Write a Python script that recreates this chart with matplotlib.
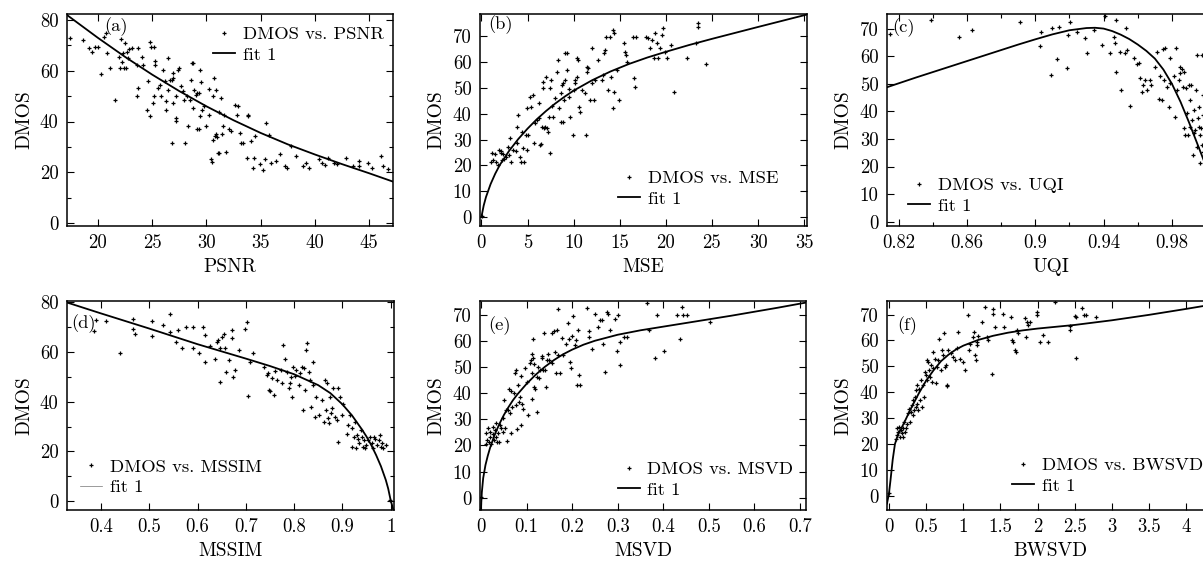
import matplotlib
matplotlib.use('Agg')
import matplotlib.pyplot as plt
from matplotlib.lines import Line2D

plt.rcParams['font.family'] = ['cmr10', 'DejaVu Serif']
plt.rcParams['mathtext.fontset'] = 'cm'
plt.rcParams['axes.formatter.use_mathtext'] = True

# ---------------- data ----------------
psnr_x = [17.4, 18.6, 19.2, 19.5, 19.7, 20.0, 20.3, 20.6, 20.7, 20.8, 21.1, 21.6, 21.9, 22.0, 22.1, 22.2, 22.3, 22.4,
          22.5, 22.6, 22.7, 22.8, 22.9, 23.1, 23.6, 23.6, 23.7, 23.7, 24.1, 24.2, 24.5, 24.6, 24.8, 24.8, 24.9, 25.1,
          25.2, 25.2, 25.3, 25.3, 25.5, 25.7, 25.8, 26.0, 26.2, 26.3, 26.3, 26.5, 26.5, 26.6, 26.8, 26.8, 26.9, 26.9,
          26.9, 27.2, 27.2, 27.2, 27.4, 27.5, 27.7, 27.8, 27.9, 28.0, 28.2, 28.3, 28.5, 28.6, 28.7, 28.8, 28.8, 28.9,
          29.0, 29.1, 29.1, 29.3, 29.3, 29.4, 29.4, 29.5, 29.6, 29.8, 30.0, 30.2, 30.2, 30.4, 30.5, 30.6, 30.6, 30.7,
          30.8, 30.9, 30.9, 31.0, 31.1, 31.2, 31.2, 31.3, 31.4, 31.5, 31.6, 31.8, 32.1, 32.3, 32.6, 32.8, 32.9, 33.1,
          33.2, 33.4, 33.7, 33.8, 33.8, 34.1, 34.3, 34.4, 34.5, 34.9, 35.2, 35.4, 35.5, 35.8, 36.0, 36.4, 36.8, 37.2,
          37.4, 37.8, 38.3, 38.9, 39.2, 39.5, 40.4, 40.7, 40.9, 41.2, 41.8, 42.0, 42.9, 43.5, 44.1, 44.1, 44.9, 45.3,
          46.1, 46.3, 46.7]
psnr_dmos = [72.8, 72.2, 68.9, 67.6, 69.5, 69.5, 58.8, 73.2, 74.8, 66.9, 61.0, 48.6, 65.6, 61.0, 72.4, 63.4, 66.9, 61.0,
             70.8, 61.0, 67.6, 65.0, 68.5, 68.9, 50.2, 62.4, 68.9, 53.2, 65.6, 62.4, 44.7, 55.8, 71.5, 42.1, 69.5, 47.3,
             69.5, 49.9, 63.7, 62.4, 53.2, 54.5, 49.9, 60.4, 55.8, 48.0, 44.4, 65.0, 52.5, 56.2, 56.2, 31.6, 57.1, 59.1,
             47.3, 41.4, 40.1, 49.9, 60.4, 61.0, 53.9, 51.9, 48.6, 31.6, 49.9, 38.2, 48.6, 56.5, 63.0, 63.0, 45.4, 52.5,
             50.6, 36.9, 51.2, 51.2, 36.9, 60.4, 42.1, 55.4, 44.7, 46.0, 38.2, 52.8, 42.7, 25.4, 24.1, 32.9, 49.9, 57.1,
             34.2, 52.5, 34.9, 34.0, 27.7, 27.4, 43.7, 49.3, 34.9, 38.2, 42.7, 28.1, 36.9, 36.2, 46.7, 42.7, 46.0, 35.5,
             31.4, 31.4, 25.5, 42.7, 42.1, 32.3, 21.8, 25.8, 34.2, 23.1, 20.9, 25.1, 39.5, 34.5, 23.8, 24.4, 27.1, 22.5,
             21.6, 30.3, 26.4, 22.5, 23.8, 21.8, 25.1, 23.8, 22.9, 25.8, 23.8, 23.1, 25.8, 22.5, 24.4, 22.5, 23.8, 21.8,
             26.4, 22.5, 21.4]
psnr_fit_x = [17.15, 20.0, 22.5, 25.0, 27.5, 30.0, 32.5, 35.0, 37.5, 40.0, 42.5, 45.0, 47.2]
psnr_fit_y = [82.0, 73.0, 65.5, 58.5, 52.0, 46.0, 40.5, 35.5, 31.0, 27.0, 23.2, 19.6, 16.3]

mse_x = [1.05, 1.15, 1.3, 1.5, 1.6, 1.8, 1.9, 2.1, 2.1, 2.2, 2.3, 2.5, 2.7, 2.9, 3.0, 3.1, 3.2, 3.4, 3.7, 3.9, 3.9, 4.0,
         4.2, 4.3, 4.4, 4.5, 4.6, 4.8, 4.9, 4.9, 5.1, 5.3, 5.4, 5.6, 5.7, 5.8, 6.0, 6.2, 6.3, 6.4, 6.5, 6.6, 6.7, 6.7,
         6.8, 6.9, 7.0, 7.1, 7.2, 7.3, 7.4, 7.4, 7.5, 7.7, 7.8, 8.0, 8.2, 8.3, 8.4, 8.6, 8.6, 8.7, 8.8, 8.9, 9.0, 9.1,
         9.1, 9.3, 9.3, 9.5, 9.5, 9.6, 9.9, 10.0, 10.1, 10.2, 10.4, 10.4, 10.5, 10.6, 10.7, 10.9, 11.2, 11.3, 11.4,
         11.4, 11.6, 11.8, 12.0, 12.0, 12.2, 12.3, 12.6, 13.1, 13.2, 13.3, 13.4, 13.5, 13.7, 13.9, 14.1, 14.3, 14.3,
         14.4, 14.4, 14.7, 14.9, 15.5, 15.6, 15.7, 15.8, 16.4, 16.5, 16.7, 16.8, 17.8, 18.1, 18.3, 18.5, 18.7, 18.8,
         19.0, 19.2, 19.4, 19.6, 19.7, 19.9, 20.1, 20.6, 20.9, 22.3, 23.3, 23.5, 23.5, 24.4, 0.05]
mse_dmos = [21.5, 24.7, 22.1, 24.5, 21.5, 20.2, 26.0, 25.4, 24.7, 22.1, 24.5, 22.4, 23.4, 27.3, 24.1, 30.5, 21.5, 26.0,
            25.4, 28.6, 35.0, 39.5, 23.4, 21.5, 33.1, 26.6, 21.2, 31.8, 42.1, 26.0, 31.8, 46.6, 42.7, 47.2, 28.6, 36.3,
            37.6, 38.2, 44.0, 27.7, 28.3, 35.0, 49.8, 52.4, 34.4, 35.0, 54.3, 34.4, 33.1, 38.9, 24.7, 49.8, 53.0, 43.0,
            38.9, 45.9, 56.2, 60.7, 42.1, 47.9, 36.9, 51.1, 51.7, 36.9, 45.3, 53.0, 63.3, 63.3, 56.9, 49.4, 46.6, 38.9,
            31.8, 49.2, 51.7, 53.0, 54.3, 61.4, 60.7, 42.7, 40.8, 49.2, 47.9, 31.8, 58.2, 56.2, 57.5, 45.3, 51.7, 65.5,
            45.3, 53.0, 60.7, 53.0, 55.0, 63.3, 64.6, 69.8, 49.2, 69.8, 54.3, 42.1, 72.3, 71.0, 48.5, 56.9, 45.3, 67.2,
            64.0, 62.7, 60.1, 69.5, 53.7, 50.4, 69.5, 69.5, 69.1, 65.3, 68.5, 61.4, 71.3, 67.2, 61.4, 65.3, 70.4, 73.0,
            64.0, 61.4, 66.5, 48.5, 61.4, 67.2, 75.2, 73.4, 59.2, 0.3]
mse_fit_x = [0.0, 0.25, 0.5, 1.0, 1.5, 2.0, 3.0, 4.0, 5.0, 6.0, 7.0, 8.0, 9.0, 10.0, 12.0, 14.0, 16.0, 18.0, 20.0,
             22.5, 25.0, 30.0, 35.3]
mse_fit_y = [0.0, 4.5, 7.8, 12.8, 16.8, 20.2, 25.6, 30.2, 34.2, 37.8, 41.0, 43.9, 46.5, 48.9, 52.9, 56.3, 59.2, 61.7,
             63.9, 66.5, 68.9, 73.5, 78.3]

uqi_x = [0.8147, 0.8391, 0.8551, 0.8629, 0.8912, 0.9029, 0.9033, 0.9092, 0.9098, 0.9127, 0.9137, 0.9185, 0.9191,
         0.9205, 0.9244, 0.9293, 0.9302, 0.9341, 0.9390, 0.9410, 0.9439, 0.9459, 0.9468, 0.9474, 0.9474, 0.9494,
         0.9501, 0.9527, 0.9533, 0.9536, 0.9556, 0.9576, 0.9595, 0.9605, 0.9615, 0.9624, 0.9630, 0.9644, 0.9654,
         0.9673, 0.9677, 0.9702, 0.9712, 0.9722, 0.9732, 0.9741, 0.9747, 0.9755, 0.9761, 0.9771, 0.9780, 0.9786,
         0.9790, 0.9810, 0.9820, 0.9825, 0.9829, 0.9839, 0.9845, 0.9849, 0.9859, 0.9864, 0.9868, 0.9872, 0.9878,
         0.9884, 0.9888, 0.9892, 0.9898, 0.9903, 0.9907, 0.9911, 0.9917, 0.9923, 0.9927, 0.9931, 0.9937, 0.9942,
         0.9946, 0.9946, 0.9950, 0.9956, 0.9956, 0.9962, 0.9966, 0.9970, 0.9976, 0.9976, 0.9980, 0.9980, 0.9984]
uqi_dmos = [68.2, 73.2, 67.2, 69.6, 72.6, 63.8, 69.0, 53.3, 70.2, 59.0, 70.8, 55.7, 67.8, 72.6, 69.0, 66.6, 61.1, 69.6,
            64.2, 74.7, 61.1, 67.2, 64.8, 54.5, 73.2, 61.7, 47.8, 61.1, 70.2, 62.3, 42.0, 59.3, 57.1, 57.5, 52.1, 47.2,
            49.6, 51.5, 47.8, 51.5, 49.6, 56.3, 61.7, 44.4, 52.9, 44.2, 62.6, 51.5, 63.0, 49.0, 41.8, 50.2, 59.3, 52.7,
            38.1, 63.0, 47.8, 51.5, 56.3, 53.9, 55.3, 49.0, 33.9, 54.5, 31.5, 48.4, 39.3, 31.5, 49.6, 34.5, 44.2, 49.6,
            36.9, 24.2, 40.6, 32.1, 33.3, 47.8, 60.5, 27.2, 37.5, 34.5, 41.8, 31.5, 21.2, 33.9, 60.5, 27.8, 38.7, 25.4,
            46.0]
uqi_fit_x = [0.8132, 0.83, 0.85, 0.87, 0.89, 0.90, 0.91, 0.92, 0.93, 0.935, 0.94, 0.945, 0.95, 0.955, 0.96, 0.965,
             0.97, 0.975, 0.98, 0.985, 0.99, 0.995, 1.0, 1.0046]
uqi_fit_y = [48.8, 52.3, 56.3, 60.3, 64.3, 66.2, 68.0, 69.5, 70.3, 70.4, 70.1, 69.2, 67.9, 66.3, 64.3, 62.0, 59.2,
             55.2, 50.0, 43.5, 36.0, 28.0, 20.0, 12.5]

mssim_x = [0.385, 0.39, 0.410, 0.439, 0.466, 0.467, 0.470, 0.505, 0.506, 0.528, 0.544, 0.544, 0.555, 0.560, 0.567,
           0.576, 0.590, 0.590, 0.604, 0.612, 0.616, 0.616, 0.626, 0.636, 0.640, 0.643, 0.647, 0.647, 0.650, 0.655,
           0.657, 0.660, 0.666, 0.671, 0.672, 0.674, 0.678, 0.685, 0.698, 0.703, 0.705, 0.709, 0.714, 0.738, 0.743,
           0.745, 0.749, 0.750, 0.754, 0.758, 0.761, 0.765, 0.772, 0.776, 0.778, 0.781, 0.785, 0.790, 0.792, 0.794,
           0.795, 0.797, 0.802, 0.805, 0.810, 0.812, 0.816, 0.819, 0.821, 0.823, 0.825, 0.826, 0.830, 0.833, 0.836,
           0.839, 0.840, 0.843, 0.845, 0.852, 0.857, 0.861, 0.864, 0.866, 0.869, 0.871, 0.873, 0.874, 0.876, 0.878,
           0.881, 0.885, 0.888, 0.890, 0.892, 0.895, 0.899, 0.902, 0.909, 0.912, 0.916, 0.919, 0.921, 0.924, 0.926,
           0.928, 0.930, 0.933, 0.935, 0.938, 0.940, 0.942, 0.944, 0.947, 0.950, 0.954, 0.957, 0.961, 0.963, 0.966,
           0.968, 0.971, 0.975, 0.978, 0.980, 0.982, 0.985, 0.990, 0.999]
mssim_dmos = [68.5, 73.0, 72.6, 59.5, 73.2, 69.5, 67.5, 72.6, 66.6, 71.1, 75.2, 68.2, 64.2, 69.1, 61.5, 70.2, 70.2, 61.5,
              59.7, 70.2, 66.8, 56.1, 62.4, 57.4, 64.2, 64.8, 48.1, 61.5, 66.2, 67.5, 61.5, 52.1, 57.0, 65.5, 69.1, 50.1,
              53.0, 60.8, 69.5, 72.2, 42.3, 56.1, 59.5, 54.1, 50.7, 51.7, 44.7, 44.4, 49.4, 42.7, 52.5, 48.7, 52.8, 47.4,
              62.8, 57.4, 52.1, 45.4, 47.4, 50.1, 42.0, 54.1, 50.3, 52.8, 46.7, 51.4, 54.1, 36.6, 53.8, 44.7, 60.8, 63.5,
              52.1, 48.7, 38.0, 56.1, 46.7, 34.0, 42.0, 34.6, 40.7, 31.9, 48.7, 36.6, 47.4, 33.3, 31.3, 42.0, 35.3, 37.3,
              45.4, 34.0, 32.6, 23.9, 45.4, 42.0, 34.6, 39.3, 27.2, 30.6, 34.6, 21.9, 29.3, 25.9, 31.9, 21.2, 26.6, 25.2,
              23.2, 28.6, 25.9, 21.9, 24.6, 21.2, 22.6, 24.6, 25.9, 23.2, 21.2, 25.9, 25.2, 22.6, 24.6, 26.6, 21.9, 23.2,
              21.2, 22.6, 0.4]
mssim_fit_x = [0.3296, 0.4, 0.5, 0.6, 0.7, 0.75, 0.8, 0.85, 0.875, 0.9, 0.92, 0.94, 0.95, 0.96, 0.97, 0.98, 0.99,
               0.995, 1.0, 1.007]
mssim_fit_y = [80.0, 75.6, 69.5, 63.2, 57.4, 54.4, 51.1, 46.7, 43.5, 39.0, 34.5, 29.0, 26.0, 22.5, 18.5, 14.0, 8.5,
               5.0, 0.4, -4.5]

msvd_x = [0.0, 0.011, 0.012, 0.014, 0.016, 0.018, 0.020, 0.021, 0.023, 0.026, 0.027, 0.029, 0.031, 0.033, 0.034, 0.036,
          0.038, 0.040, 0.042, 0.044, 0.048, 0.049, 0.050, 0.053, 0.056, 0.058, 0.060, 0.062, 0.064, 0.066, 0.067,
          0.069, 0.072, 0.075, 0.077, 0.078, 0.080, 0.082, 0.084, 0.086, 0.087, 0.089, 0.091, 0.093, 0.097, 0.100,
          0.104, 0.108, 0.110, 0.111, 0.113, 0.113, 0.115, 0.115, 0.116, 0.117, 0.119, 0.122, 0.124, 0.126, 0.128,
          0.129, 0.133, 0.135, 0.137, 0.138, 0.140, 0.143, 0.144, 0.148, 0.150, 0.155, 0.157, 0.160, 0.162, 0.165,
          0.166, 0.168, 0.170, 0.173, 0.177, 0.181, 0.187, 0.192, 0.194, 0.195, 0.197, 0.199, 0.203, 0.206, 0.209,
          0.210, 0.214, 0.216, 0.217, 0.233, 0.236, 0.238, 0.243, 0.250, 0.257, 0.261, 0.265, 0.268, 0.272, 0.276,
          0.279, 0.283, 0.294, 0.298, 0.301, 0.305, 0.306, 0.314, 0.321, 0.364, 0.369, 0.382, 0.386, 0.402, 0.429,
          0.437, 0.440, 0.444, 0.451, 0.503]
msvd_dmos = [0.4, 20.7, 24.6, 22.0, 26.5, 21.4, 23.3, 25.2, 20.7, 24.2, 27.1, 22.0, 25.8, 23.3, 28.4, 21.4, 24.6, 21.4,
             27.7, 26.5, 30.3, 25.2, 37.5, 26.5, 33.5, 21.8, 33.7, 41.7, 32.2, 40.9, 24.6, 34.5, 40.1, 47.5, 49.0, 35.4,
             26.1, 43.0, 36.7, 38.6, 27.7, 46.5, 36.0, 34.1, 49.4, 44.3, 31.6, 51.5, 52.8, 37.9, 47.5, 54.9, 53.6, 60.8,
             51.0, 42.4, 41.7, 46.2, 32.8, 50.1, 45.6, 48.7, 53.6, 54.1, 48.7, 63.0, 48.7, 42.4, 52.6, 55.1, 52.6, 63.1,
             51.5, 63.6, 55.7, 47.7, 64.3, 72.0, 54.5, 47.5, 61.1, 54.5, 58.9, 66.6, 60.8, 51.9, 49.4, 62.0, 69.4, 58.5,
             60.2, 43.0, 64.3, 46.8, 43.0, 72.7, 63.6, 61.5, 57.0, 70.4, 65.3, 68.1, 68.1, 58.9, 48.1, 71.0, 70.4, 64.0,
             68.5, 56.0, 70.0, 59.6, 50.7, 61.5, 61.5, 74.5, 64.0, 53.6, 69.8, 56.0, 69.8, 60.8, 72.9, 69.8, 69.8, 67.2]
msvd_fit_x = [0.0, 0.002, 0.005, 0.01, 0.015, 0.02, 0.03, 0.04, 0.05, 0.06, 0.07, 0.08, 0.1, 0.12, 0.14, 0.16, 0.18,
              0.2, 0.225, 0.25, 0.3, 0.35, 0.4, 0.45, 0.5, 0.55, 0.6, 0.65, 0.713]
msvd_fit_y = [-4.5, 2.0, 7.5, 12.5, 16.0, 19.0, 24.0, 28.0, 31.5, 34.5, 37.2, 39.5, 43.5, 47.0, 50.0, 52.6, 54.8,
              56.6, 58.5, 60.0, 62.3, 64.0, 65.4, 66.8, 68.2, 69.6, 71.1, 72.6, 74.6]

bwsvd_x = [0.0, 0.094, 0.103, 0.112, 0.126, 0.139, 0.148, 0.157, 0.170, 0.184, 0.193, 0.202, 0.215, 0.229, 0.247, 0.260,
           0.274, 0.283, 0.291, 0.305, 0.318, 0.327, 0.336, 0.350, 0.359, 0.363, 0.372, 0.381, 0.395, 0.408, 0.417,
           0.426, 0.439, 0.453, 0.471, 0.484, 0.498, 0.507, 0.516, 0.529, 0.543, 0.552, 0.561, 0.574, 0.587, 0.596,
           0.619, 0.632, 0.641, 0.664, 0.677, 0.695, 0.709, 0.731, 0.740, 0.753, 0.767, 0.776, 0.785, 0.798, 0.830,
           0.857, 0.888, 0.919, 0.933, 0.955, 0.991, 1.022, 1.067, 1.081, 1.090, 1.126, 1.143, 1.157, 1.170, 1.179,
           1.188, 1.202, 1.256, 1.292, 1.314, 1.336, 1.381, 1.395, 1.404, 1.426, 1.529, 1.547, 1.637, 1.650, 1.673,
           1.695, 1.709, 1.726, 1.740, 1.830, 1.843, 1.861, 1.874, 1.897, 1.987, 1.996, 2.031, 2.076, 2.143, 2.23,
           2.43, 2.44, 2.50, 2.52, 2.52, 2.60, 2.63, 2.65, 2.79]
bwsvd_dmos = [0.9, 22.1, 26.0, 23.4, 24.7, 26.6, 22.8, 25.4, 24.1, 26.0, 22.8, 28.6, 24.7, 26.0, 27.9, 31.8, 33.7, 28.6,
              32.4, 35.0, 31.1, 36.9, 33.1, 38.2, 34.4, 40.8, 35.6, 42.7, 33.1, 41.4, 36.9, 44.7, 34.4, 42.7, 38.2, 47.9,
              46.6, 44.7, 52.4, 51.7, 48.5, 45.9, 50.5, 44.0, 55.6, 49.2, 53.0, 43.4, 49.8, 52.4, 60.7, 48.5, 56.2, 54.3,
              62.7, 49.8, 50.5, 42.7, 42.3, 56.2, 55.0, 53.7, 52.4, 56.9, 63.3, 53.0, 51.7, 48.5, 69.8, 56.2, 58.8, 61.4,
              63.3, 54.3, 52.4, 58.2, 59.5, 61.6, 67.2, 73.0, 61.4, 60.1, 47.2, 72.3, 70.4, 65.3, 70.4, 65.3, 69.1, 60.1,
              59.5, 56.2, 55.6, 64.0, 62.7, 68.5, 61.4, 67.2, 65.9, 67.2, 69.8, 71.0, 59.5, 62.0, 59.5, 74.9, 65.5, 64.2,
              69.4, 69.1, 53.4, 72.7, 70.0, 70.0, 69.1]
bwsvd_fit_x = [-0.027, 0.0, 0.02, 0.05, 0.08, 0.12, 0.2, 0.3, 0.4, 0.5, 0.6, 0.7, 0.8, 0.9, 1.0, 1.2, 1.4, 1.6, 1.8,
               2.0, 2.5, 3.0, 3.5, 4.0, 4.374]
bwsvd_fit_y = [-3.0, 1.0, 6.0, 14.0, 20.0, 23.5, 28.0, 34.0, 39.5, 44.5, 48.5, 52.0, 54.5, 56.5, 58.0, 60.2, 61.8,
               63.0, 63.9, 64.6, 66.0, 67.8, 69.9, 72.2, 74.0]

x_labels = ['PSNR', 'MSE', 'UQI', 'MSSIM', 'MSVD', 'BWSVD']
panel_tags = ['(a)', '(b)', '(c)', '(d)', '(e)', '(f)']
scatter_labels = ['DMOS vs. PSNR', 'DMOS vs. MSE', 'DMOS vs. UQI', 'DMOS vs. MSSIM', 'DMOS vs. MSVD', 'DMOS vs. BWSVD']
fit_label = 'fit 1'

psnr_ticks = [20, 25, 30, 35, 40, 45]
mse_ticks = [0, 5, 10, 15, 20, 25, 30, 35]
uqi_ticks = [0.82, 0.86, 0.9, 0.94, 0.98]
uqi_minor_ticks = [0.84, 0.88, 0.92, 0.96, 1.0]
uqi_tick_labels = ['0.82', '0.86', '0.9', '0.94', '0.98']
mssim_ticks = [0.4, 0.5, 0.6, 0.7, 0.8, 0.9, 1.0]
mssim_tick_labels = ['0.4', '0.5', '0.6', '0.7', '0.8', '0.9', '1']
msvd_ticks = [0, 0.1, 0.2, 0.3, 0.4, 0.5, 0.6, 0.7]
msvd_tick_labels = ['0', '0.1', '0.2', '0.3', '0.4', '0.5', '0.6', '0.7']
bwsvd_ticks = [0, 0.5, 1, 1.5, 2, 2.5, 3, 3.5, 4]
bwsvd_tick_labels = ['0', '0.5', '1', '1.5', '2', '2.5', '3', '3.5', '4']
dmos_ticks_20 = [0, 20, 40, 60, 80]
dmos_minor_10 = [10, 30, 50, 70]
dmos_ticks_10 = [0, 10, 20, 30, 40, 50, 60, 70]

# ---------------- layout ----------------
W, H = 1203, 563
fig = plt.figure(figsize=(W / 100, H / 100), dpi=100)

FS_TICK = 13.5
FS_LABEL = 14
FS_LEG = 13.4

panels = [
    dict(x=psnr_x, y=psnr_dmos, fx=psnr_fit_x, fy=psnr_fit_y, box=(67, 14, 393, 226),
         xlim=(17.15, 47.2), ylim=(-1.2, 82.4), xt=psnr_ticks, xtl=[str(v) for v in psnr_ticks], xminor=None,
         yt=dmos_ticks_20, yminor=dmos_minor_10, tag=(0.113, 0.94), leg=(0.448, 0.943), legline=1.3),
    dict(x=mse_x, y=mse_dmos, fx=mse_fit_x, fy=mse_fit_y, box=(480, 14, 807, 226),
         xlim=(-0.15, 35.3), ylim=(-3.4, 78.5), xt=mse_ticks, xtl=[str(v) for v in mse_ticks], xminor=None,
         yt=dmos_ticks_10, yminor=None, tag=(0.025, 0.948), leg=(0.422, 0.263), legline=1.3),
    dict(x=uqi_x, y=uqi_dmos, fx=uqi_fit_x, fy=uqi_fit_y, box=(887, 14, 1214, 226),
         xlim=(0.8132, 1.0046), ylim=(-1.6, 75.4), xt=uqi_ticks, xtl=uqi_tick_labels, xminor=uqi_minor_ticks,
         yt=dmos_ticks_10, yminor=None, tag=(0.017, 0.934), leg=(0.064, 0.230), legline=1.3),
    dict(x=mssim_x, y=mssim_dmos, fx=mssim_fit_x, fy=mssim_fit_y, box=(67, 301, 394, 510),
         xlim=(0.3296, 1.007), ylim=(-3.6, 80.6), xt=mssim_ticks, xtl=mssim_tick_labels, xminor=None,
         yt=dmos_ticks_20, yminor=dmos_minor_10, tag=(0.012, 0.893), leg=(0.040, 0.245), legline=0.5),
    dict(x=msvd_x, y=msvd_dmos, fx=msvd_fit_x, fy=msvd_fit_y, box=(480, 301, 806, 510),
         xlim=(-0.002, 0.713), ylim=(-4.7, 75.2), xt=msvd_ticks, xtl=msvd_tick_labels, xminor=None,
         yt=dmos_ticks_10, yminor=None, tag=(0.025, 0.884), leg=(0.422, 0.234), legline=1.3),
    dict(x=bwsvd_x, y=bwsvd_dmos, fx=bwsvd_fit_x, fy=bwsvd_fit_y, box=(887, 301, 1214, 510),
         xlim=(-0.027, 4.374), ylim=(-5.5, 75.25), xt=bwsvd_ticks, xtl=bwsvd_tick_labels, xminor=None,
         yt=dmos_ticks_10, yminor=None, tag=(0.03, 0.884), leg=(0.382, 0.253), legline=1.3),
]

for i, p in enumerate(panels):
    l, t, r, b = p['box']
    ax = fig.add_axes([l / W, 1 - b / H, (r - l) / W, (b - t) / H])
    sc, = ax.plot(p['x'], p['y'], ls='none', marker='+', ms=3.2, mew=0.9, color='black', label=scatter_labels[i])
    ln, = ax.plot(p['fx'], p['fy'], color='black', lw=1.3, label=fit_label)
    ax.set_xlim(*p['xlim'])
    ax.set_ylim(*p['ylim'])
    ax.set_xticks(p['xt'])
    ax.set_xticklabels(p['xtl'])
    ax.set_yticks(p['yt'])
    ax.set_yticklabels([str(v) for v in p['yt']])
    if p['xminor']:
        ax.set_xticks(p['xminor'], minor=True)
    if p['yminor']:
        ax.set_yticks(p['yminor'], minor=True)
    ax.tick_params(which='both', direction='in', top=True, right=True, labelsize=FS_TICK, width=0.8)
    ax.tick_params(which='major', length=5, pad=6)
    ax.tick_params(which='minor', length=3)
    for s in ax.spines.values():
        s.set_linewidth(1.1)
    ax.set_xlabel(x_labels[i], fontsize=FS_LABEL, labelpad=4)
    ax.set_ylabel('DMOS', fontsize=FS_LABEL, labelpad=5)
    ax.text(p['tag'][0], p['tag'][1], panel_tags[i], transform=ax.transAxes, ha='left', va='center',
            fontsize=FS_LEG)
    h_line = Line2D([], [], color=('black' if p['legline'] > 1 else '0.45'), lw=p['legline'])
    ax.legend([sc, h_line], [scatter_labels[i], fit_label], loc='upper left', bbox_to_anchor=p['leg'],
              frameon=False, fontsize=FS_LEG, numpoints=1, handlelength=1.2, handletextpad=0.4,
              borderpad=0, borderaxespad=0, labelspacing=0.24)

fig.savefig('out.png', dpi=100)
